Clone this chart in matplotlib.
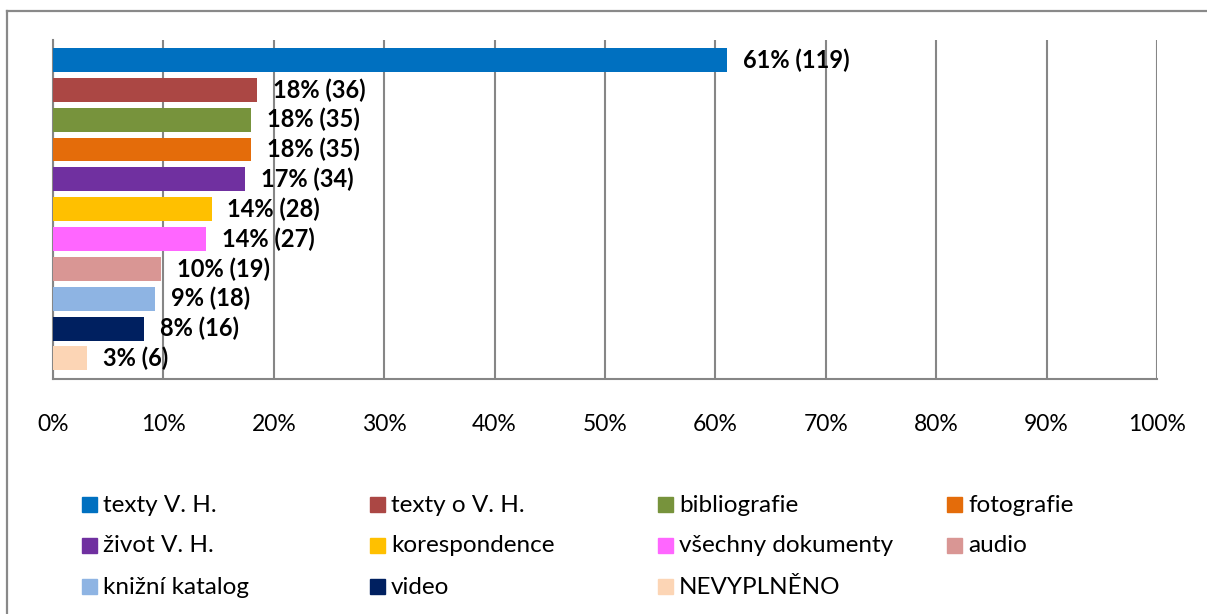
import matplotlib
matplotlib.use("Agg")
import matplotlib.pyplot as plt
from matplotlib.patches import Rectangle
from matplotlib.lines import Line2D
from matplotlib.ticker import FuncFormatter

plt.rcParams['font.family'] = ['Lato', 'DejaVu Sans']

categories = ["texty V. H.", "texty o V. H.", "bibliografie", "fotografie",
              "život V. H.", "korespondence", "všechny dokumenty", "audio",
              "knižní katalog", "video", "NEVYPLNĚNO"]
counts = [119, 36, 35, 35, 34, 28, 27, 19, 18, 16, 6]
total = 195
colors = ["#0070C0", "#AB4744", "#77933C", "#E46C0A", "#7030A0", "#FFC000",
          "#FF66FF", "#D99694", "#8EB4E3", "#002060", "#FCD5B5"]
xticks = [0, 10, 20, 30, 40, 50, 60, 70, 80, 90, 100]

W, H = 1207, 614
fig = plt.figure(figsize=(W / 100, H / 100), dpi=100)
ax = fig.add_axes([53 / W, 1 - 379 / H, (1157 - 53) / W, (379 - 40) / H])

pct = [c / total * 100 for c in counts]
ypos = list(range(len(categories)))
ax.barh(ypos, pct, height=0.8, color=colors, zorder=3)

for y, p, c in zip(ypos, pct, counts):
    ax.annotate(f"{round(p)}% ({c})", (p, y), xytext=(11.5, 0),
                textcoords="offset points", va="center", ha="left",
                fontsize=17, fontweight="bold", zorder=4)

ax.set_xlim(0, 100)
ax.set_ylim(10.69, -0.67)
ax.set_xticks(xticks)
ax.xaxis.set_major_formatter(FuncFormatter(lambda v, _: f"{v:.0f}%"))
ax.set_yticks([])
ax.tick_params(axis="x", length=0, pad=25.5, labelsize=16.5)
ax.grid(axis="x", color="#868686", lw=1.5, zorder=0)
for s in ["top", "right"]:
    ax.spines[s].set_visible(False)
for s in ["left", "bottom"]:
    ax.spines[s].set_color("#868686")
    ax.spines[s].set_linewidth(1.5)

# outer chart border (top and left visible)
fig.add_artist(Line2D([7 / W, 7 / W], [0, 1 - 11 / H], color="#898989",
                      lw=1.6, transform=fig.transFigure))
fig.add_artist(Line2D([7 / W, 1], [1 - 11 / H, 1 - 11 / H], color="#898989",
                      lw=1.6, transform=fig.transFigure))

# legend, 4 columns
col_x = [82, 370, 658, 947]
row_y = [504, 545, 586]
for i, (name, col) in enumerate(zip(categories, colors)):
    cx = col_x[i % 4]
    cy = row_y[i // 4]
    fig.add_artist(Rectangle((cx / W, 1 - (cy + 7.5) / H), 15 / W, 15 / H,
                             color=col, transform=fig.transFigure))
    fig.text((cx + 21) / W, 1 - (cy + 1) / H, name, ha="left", va="center",
             fontsize=17.5)

fig.savefig("out.png", dpi=100)
